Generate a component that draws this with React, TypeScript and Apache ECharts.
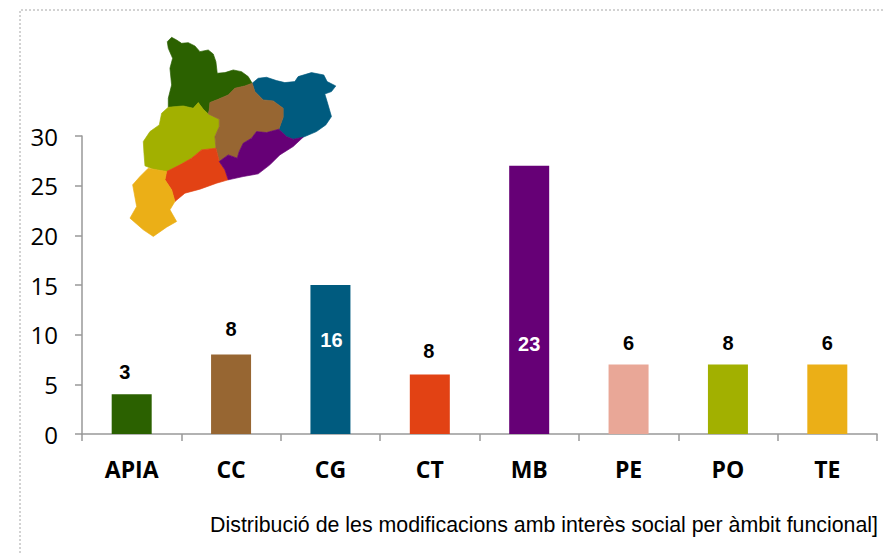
import React, { useEffect, useRef } from "react";
import * as echarts from "echarts";

const categories = ["APIA", "CC", "CG", "CT", "MB", "PE", "PO", "TE"];
const barValues = [4, 8, 15, 6, 27, 7, 7, 7];
const barLabels = ["3", "8", "16", "8", "23", "6", "8", "6"];
const barColors = ["#2B6100", "#976632", "#005B7F", "#E24214", "#660076", "#E9A797", "#A2B000", "#EBAF17"];
const labelInside = [false, false, true, false, true, false, false, false];
const labelShiftX = [-7, 0, 1, -1, 0, 0, 0, 0];
const labelOffsets = [-7, -11, -79, -8, -75, -6, -6, -6];
const yTicks = { min: 0, max: 30, interval: 5 };
const caption = "Distribució de les modificacions amb interès social per àmbit funcional]";

const regionApia = [[142,35],[155,22],[170,30],[185,40],[205,38],[225,48],[240,65],[265,60],[280,72],[288,95],[292,130],[315,128],[340,120],[365,125],[385,140],[397,160],[375,168],[345,175],[325,195],[295,208],[270,218],[268,240],[265,252],[250,238],[235,218],[220,235],[190,228],[145,232],[145,205],[155,165],[150,115],[158,85],[145,55]];
const regionCc = [[397,160],[405,185],[430,210],[460,213],[490,235],[490,262],[477,298],[440,308],[410,305],[395,325],[370,340],[358,365],[352,385],[325,375],[298,395],[288,355],[285,320],[298,290],[298,268],[265,252],[268,240],[270,218],[295,208],[325,195],[345,175],[375,168]];
const regionCg = [[397,160],[415,145],[440,142],[470,152],[495,158],[525,155],[535,140],[575,128],[612,135],[622,155],[648,168],[635,185],[615,192],[622,215],[635,260],[618,285],[590,305],[550,322],[520,328],[500,320],[477,298],[490,262],[490,235],[460,213],[430,210],[405,185]];
const regionPo = [[145,232],[190,228],[220,235],[235,218],[250,238],[265,252],[298,268],[298,290],[285,320],[288,355],[245,360],[215,385],[180,405],[140,425],[100,418],[75,408],[72,370],[70,335],[90,305],[118,285],[125,250]];
const regionCt = [[140,425],[180,405],[215,385],[245,360],[288,355],[298,395],[315,420],[325,450],[290,460],[240,478],[195,490],[165,515],[155,480],[135,450]];
const regionMb = [[298,395],[325,375],[352,385],[358,365],[370,340],[395,325],[410,305],[440,308],[477,298],[500,320],[520,328],[550,322],[520,350],[480,375],[450,405],[415,432],[370,440],[325,450],[315,420]];
const regionTe = [[85,415],[100,418],[140,425],[135,450],[155,480],[165,515],[150,540],[170,575],[140,592],[100,620],[70,600],[30,565],[50,530],[38,465],[60,440]];

const mapRegions: [number[][], string][] = [
  [regionApia, barColors[0]],
  [regionCg, barColors[2]],
  [regionPo, barColors[6]],
  [regionCc, barColors[1]],
  [regionCt, barColors[3]],
  [regionMb, barColors[4]],
  [regionTe, barColors[7]],
];

export default function App() {
  const ref = useRef<HTMLDivElement>(null);
  useEffect(() => {
    document.body.style.margin = "0";
    const chart = echarts.init(ref.current!, null, { renderer: "svg" });
    chart.setOption({
      animation: false,
      backgroundColor: "#ffffff",
      grid: { left: 82, right: 8, top: 136, bottom: 119 },
      xAxis: {
        type: "category",
        data: categories,
        axisLine: { lineStyle: { color: "#999999", width: 1.5 } },
        axisTick: { show: true, alignWithLabel: false, length: 7, lineStyle: { color: "#999999", width: 1.5 } },
        axisLabel: {
          color: "#000000",
          fontFamily: "Open Sans",
          fontWeight: "bold",
          fontSize: 23,
          margin: 23,
        },
      },
      yAxis: {
        type: "value",
        ...yTicks,
        splitLine: { show: false },
        axisLine: { show: true, lineStyle: { color: "#999999", width: 1.5 } },
        axisTick: { show: true, length: 7, lineStyle: { color: "#999999", width: 1.5 } },
        axisLabel: { color: "#000000", fontFamily: "Open Sans", fontSize: 24, margin: 24 },
      },
      series: [
        {
          type: "bar",
          barWidth: 40,
          data: barValues.map((value, i) => ({
            value,
            itemStyle: { color: barColors[i] },
            label: {
              show: true,
              formatter: barLabels[i],
              position: labelInside[i] ? "insideBottom" : "top",
              offset: [labelShiftX[i], labelOffsets[i]],
              color: labelInside[i] ? "#ffffff" : "#000000",
              fontFamily: "Liberation Sans",
              fontWeight: "bold",
              fontSize: 20,
            },
          })),
        },
      ],
      graphic: [
        {
          type: "polyline",
          shape: { points: [[20, 553], [20, 10], [885, 10]] },
          style: { stroke: "#a6a6a6", lineWidth: 1, lineDash: [2, 2], fill: "none" },
          silent: true,
        },
        {
          type: "group",
          x: 120,
          y: 30,
          scaleX: 1 / 3,
          scaleY: 1 / 3,
          silent: true,
          children: mapRegions.map(([points, color]) => ({
            type: "polygon",
            shape: { points },
            style: { fill: color, stroke: color, lineWidth: 2 },
          })),
        },
        {
          type: "text",
          right: 7,
          top: 514,
          style: { text: caption, fontFamily: "Liberation Sans", fontSize: 21.35, fill: "#000000" },
        },
      ],
    });
    return () => chart.dispose();
  }, []);
  return <div ref={ref} style={{ width: 885, height: 553 }} />;
}
